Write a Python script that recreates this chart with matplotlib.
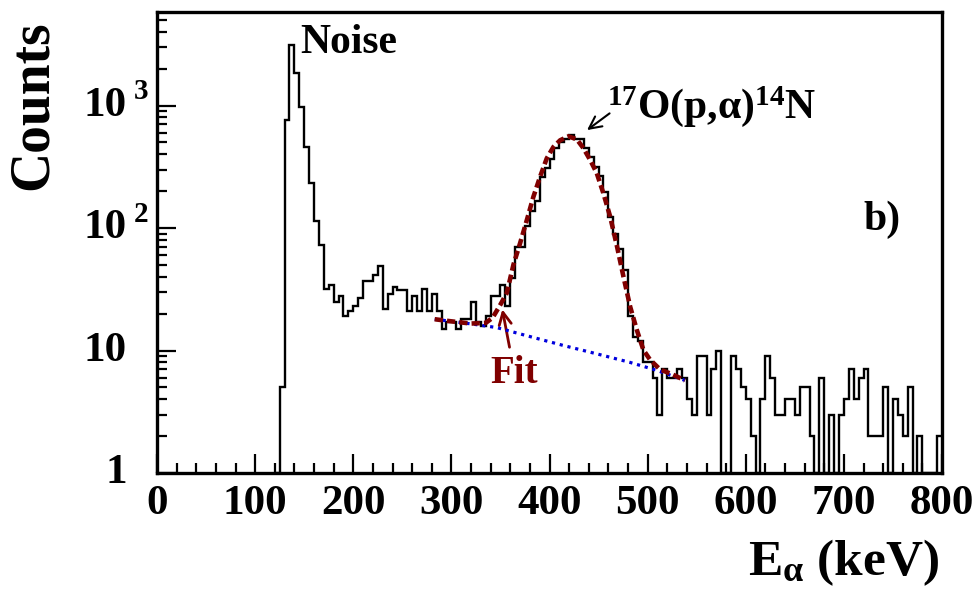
import numpy as np
import matplotlib.pyplot as plt
import matplotlib.transforms as mtransforms
from matplotlib.ticker import FixedLocator, MultipleLocator, NullFormatter

plt.rcParams['font.family'] = ['Liberation Serif', 'DejaVu Serif']
plt.rcParams['font.weight'] = 'bold'
plt.rcParams['mathtext.fontset'] = 'custom'
plt.rcParams['mathtext.rm'] = 'Liberation Serif:bold'
plt.rcParams['mathtext.bf'] = 'Liberation Serif:bold'
plt.rcParams['mathtext.it'] = 'Liberation Serif:bold'

# alpha spectrum, 5 keV bins, first bin starts at 120 keV
bin_width = 5
first_edge = 120
counts = [
    1, 5, 760, 3120, 1850, 980, 456, 232, 114, 73,          # 120-165
    32, 34, 25, 28, 19, 21, 23, 27, 37, 37,                 # 170-215
    41, 49, 22, 29, 33, 31, 31, 21, 28, 21,                 # 220-265
    32, 21, 29, 21, 15, 17, 17, 15, 18, 18,                 # 270-315
    25, 17, 16, 19, 28, 28, 34, 23, 39, 70,                 # 320-365
    70, 104, 138, 167, 262, 307, 364, 448, 500, 530,        # 370-415
    574, 530, 530, 448, 382, 316, 266, 198, 124, 89,        # 420-465
    68, 45, 19, 13, 12, 8, 8, 6, 3, 7,                      # 470-515
    6, 6, 7, 6, 4, 3, 9, 9, 3, 7,                           # 520-565
    10, 1, 1, 9, 7, 5, 4, 2, 1, 4,                          # 570-615
    9, 6, 3, 3, 4, 4, 3, 5, 5, 2,                           # 620-665
    1, 6, 1, 3, 1, 3, 4, 7, 4, 6,                           # 670-715
    7, 2, 2, 2, 5, 1, 4, 3, 2, 5,                           # 720-765
    1, 2, 1, 1, 1, 2,                                       # 770-795
]
edges = first_edge + bin_width * np.arange(len(counts) + 1)

# total fit (gaussian + background) and background alone
fit_e = [283, 300, 320, 335, 342, 349.6, 356.5, 363.2, 370, 376.9, 383.6,
         390.4, 397.2, 404, 410.8, 419.3, 427.8, 434.6, 441.4, 448.2, 455,
         461.8, 468.6, 475.4, 482.2, 489, 495.7, 502.5, 512.7, 525, 538]
fit_counts = [18.0, 17.3, 16.6, 16.8, 18.5, 23.4, 29.5, 50, 75, 116, 180,
              262, 370, 459, 520, 560, 530, 448, 360, 280, 191,
              124, 72, 40, 22.8, 14.7, 10.1, 8.4, 7.0, 6.4, 5.7]
bkg_e = [283, 300, 320, 346, 380, 414, 448, 482, 509, 538]
bkg_counts = [18.0, 17.3, 16.5, 15.4, 13.0, 11.0, 9.4, 8.0, 6.9, 5.7]

ytick_vals = [1, 10, 100, 1000]
ytick_base = ['1', '10', '10', '10']
ytick_exp = ['', '', '2', '3']

fig = plt.figure(figsize=(9.76, 5.94), dpi=100)
ax = fig.add_axes([157 / 976, 1 - 473 / 594, 785 / 976, 461 / 594])

ax.stairs(counts, edges, baseline=None, color='black', lw=1.7, zorder=3)
ax.plot(bkg_e, bkg_counts, color='#0000dd', lw=2.3,
        linestyle=(0, (1.0, 1.5)), zorder=4)
ax.plot(fit_e, fit_counts, color='#800000', lw=3.3,
        linestyle=(0, (1.8, 0.9)), zorder=5)

ax.set_yscale('log')
ax.set_xlim(0, 800)
ax.set_ylim(1, 5800)

ax.xaxis.set_major_locator(MultipleLocator(100))
ax.xaxis.set_minor_locator(MultipleLocator(20))
ax.yaxis.set_major_locator(FixedLocator(ytick_vals))
ax.yaxis.set_minor_locator(FixedLocator(
    [m * 10 ** d for d in range(4) for m in range(2, 10)]))
ax.yaxis.set_major_formatter(NullFormatter())
ax.yaxis.set_minor_formatter(NullFormatter())

ax.tick_params(axis='both', which='major', direction='in', length=14,
               width=1.6, top=False, right=False)
ax.tick_params(axis='both', which='minor', direction='in', length=7,
               width=1.6, top=False, right=False)
ax.tick_params(axis='x', which='major', labelsize=31, pad=9)
for lab in ax.get_xticklabels():
    lab.set_fontweight('bold')
for sp in ax.spines.values():
    sp.set_linewidth(2.4)

# ROOT style decade labels: "10" with a detached exponent
trans = mtransforms.blended_transform_factory(fig.transFigure, ax.transData)
for val, base, ex in zip(ytick_vals, ytick_base, ytick_exp):
    ax.text(127 / 976, val, base, transform=trans, ha='right', va='center',
            fontsize=31, fontweight='bold', clip_on=False)
    if ex:
        up = mtransforms.offset_copy(trans, fig=fig, x=0, y=14, units='dots')
        ax.text(134 / 976, val, ex, transform=up, ha='left', va='center',
                fontsize=21, fontweight='bold', clip_on=False)

fig.text(33 / 976, 1 - 105 / 594, 'Counts', rotation=90, ha='center',
         va='center', fontsize=40, fontweight='bold')
fig.text(748 / 976, 1 - 575 / 594, r'E$_{\alpha}$ (keV)', ha='left',
         va='baseline', fontsize=37, fontweight='bold')

ax.text(300 / 976, 1 - 53 / 594, 'Noise', transform=fig.transFigure,
        ha='left', va='baseline', fontsize=30, fontweight='bold')
ax.text(607 / 976, 1 - 118 / 594, r'$^{17}$O(p,α)$^{14}$N',
        transform=fig.transFigure, ha='left', va='baseline', fontsize=30,
        fontweight='bold')
ax.text(863 / 976, 1 - 230 / 594, 'b)', transform=fig.transFigure,
        ha='left', va='baseline', fontsize=30, fontweight='bold')
ax.text(490 / 976, 1 - 383 / 594, 'Fit', transform=fig.transFigure,
        ha='left', va='baseline', fontsize=28, fontweight='bold',
        color='#800000')

ax.annotate('', xy=(436, 611), xytext=(463.5, 890),
            arrowprops=dict(arrowstyle='->', color='black', lw=1.5,
                            mutation_scale=22))
ax.annotate('', xy=(351.4, 22.8), xytext=(359.8, 10.1),
            arrowprops=dict(arrowstyle='->', color='#800000', lw=2.0,
                            mutation_scale=22))

fig.savefig('out.png', dpi=100)
